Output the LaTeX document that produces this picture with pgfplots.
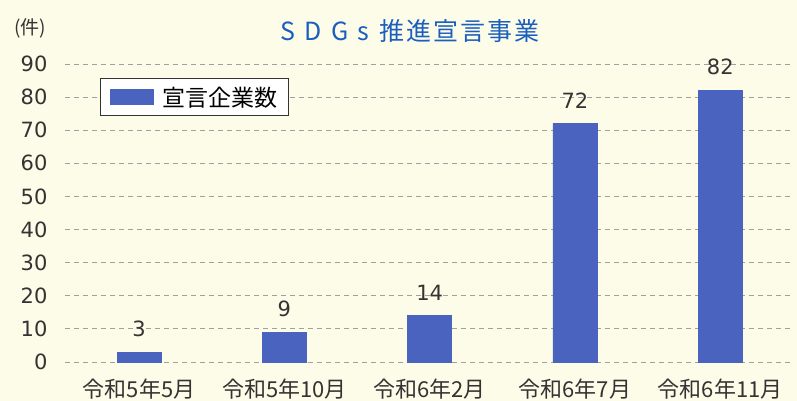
\documentclass[border=0pt]{standalone}
\usepackage{pgfplots}
\pgfplotsset{compat=1.18}
\usepackage{fontspec}
\setmainfont{Noto Sans CJK JP}
\newfontfamily\numfont{DejaVu Sans}
\definecolor{bg}{HTML}{FDFCE8}
\definecolor{barblue}{HTML}{4A63BF}
\definecolor{titleblue}{HTML}{1A5FBF}
\definecolor{txt}{HTML}{333333}
\definecolor{gridc}{HTML}{A0A0A0}
\begin{document}
\begin{tikzpicture}
\fill[bg] (-65pt,-39pt) rectangle (732pt,362pt);
\path[use as bounding box] (-65pt,-39pt) rectangle (732pt,362pt);
\begin{axis}[
  at={(0,0)}, anchor=south west,
  scale only axis, width=725pt, height=298pt,
  xmin=-0.51, xmax=4.48, ymin=0, ymax=90,
  ytick={0,10,...,90},
  xtick=data,
  xticklabels={令和5年5月,令和5年10月,令和6年2月,令和6年7月,令和6年11月},
  axis line style={draw=none},
  major tick length=0pt,
  ymajorgrids, xmajorgrids=false,
  major grid style={gridc, dash pattern=on 5pt off 4pt, line width=0.9pt},
  /pgf/number format/assume math mode=true,
  xticklabel style={font=\fontsize{22}{24}\selectfont, text=txt, yshift=-13pt},
  yticklabel style={font=\numfont\fontsize{21}{24}\selectfont, text=txt, xshift=-14pt},
  ybar, bar width=44pt,
  clip=false,
  nodes near coords,
  every node near coord/.append style={font=\numfont\fontsize{21}{24}\selectfont, text=txt, yshift=12pt},
  legend style={at={(35pt,284pt)}, anchor=north west, draw=txt, line width=1.3pt, fill=white,
    font=\fontsize{23}{26}\selectfont, inner xsep=9pt, inner ysep=6pt},
  legend image code/.code={\fill[#1] (0pt,-7.5pt) rectangle (43pt,7.5pt); \path[draw=none, fill=none] (0pt,0pt) -- (50pt,0pt);},
  legend cell align=left,
]
\addplot[fill=barblue, draw=barblue] coordinates {(0,3) (1,9) (2,14) (3,72) (4,82)};
\addlegendentry{宣言企業数}
\end{axis}
\node[text=titleblue, font=\fontsize{25}{28}\selectfont] at (345pt,331pt) {S\hspace{9pt}D\hspace{9pt}G\hspace{9pt}s\hspace{10pt}推\hspace{2pt}進\hspace{2pt}宣\hspace{2pt}言\hspace{2pt}事\hspace{2pt}業};
\node[text=txt, font=\fontsize{19}{22}\selectfont] at (-35pt,334pt) {(件)};
\end{tikzpicture}
\end{document}
